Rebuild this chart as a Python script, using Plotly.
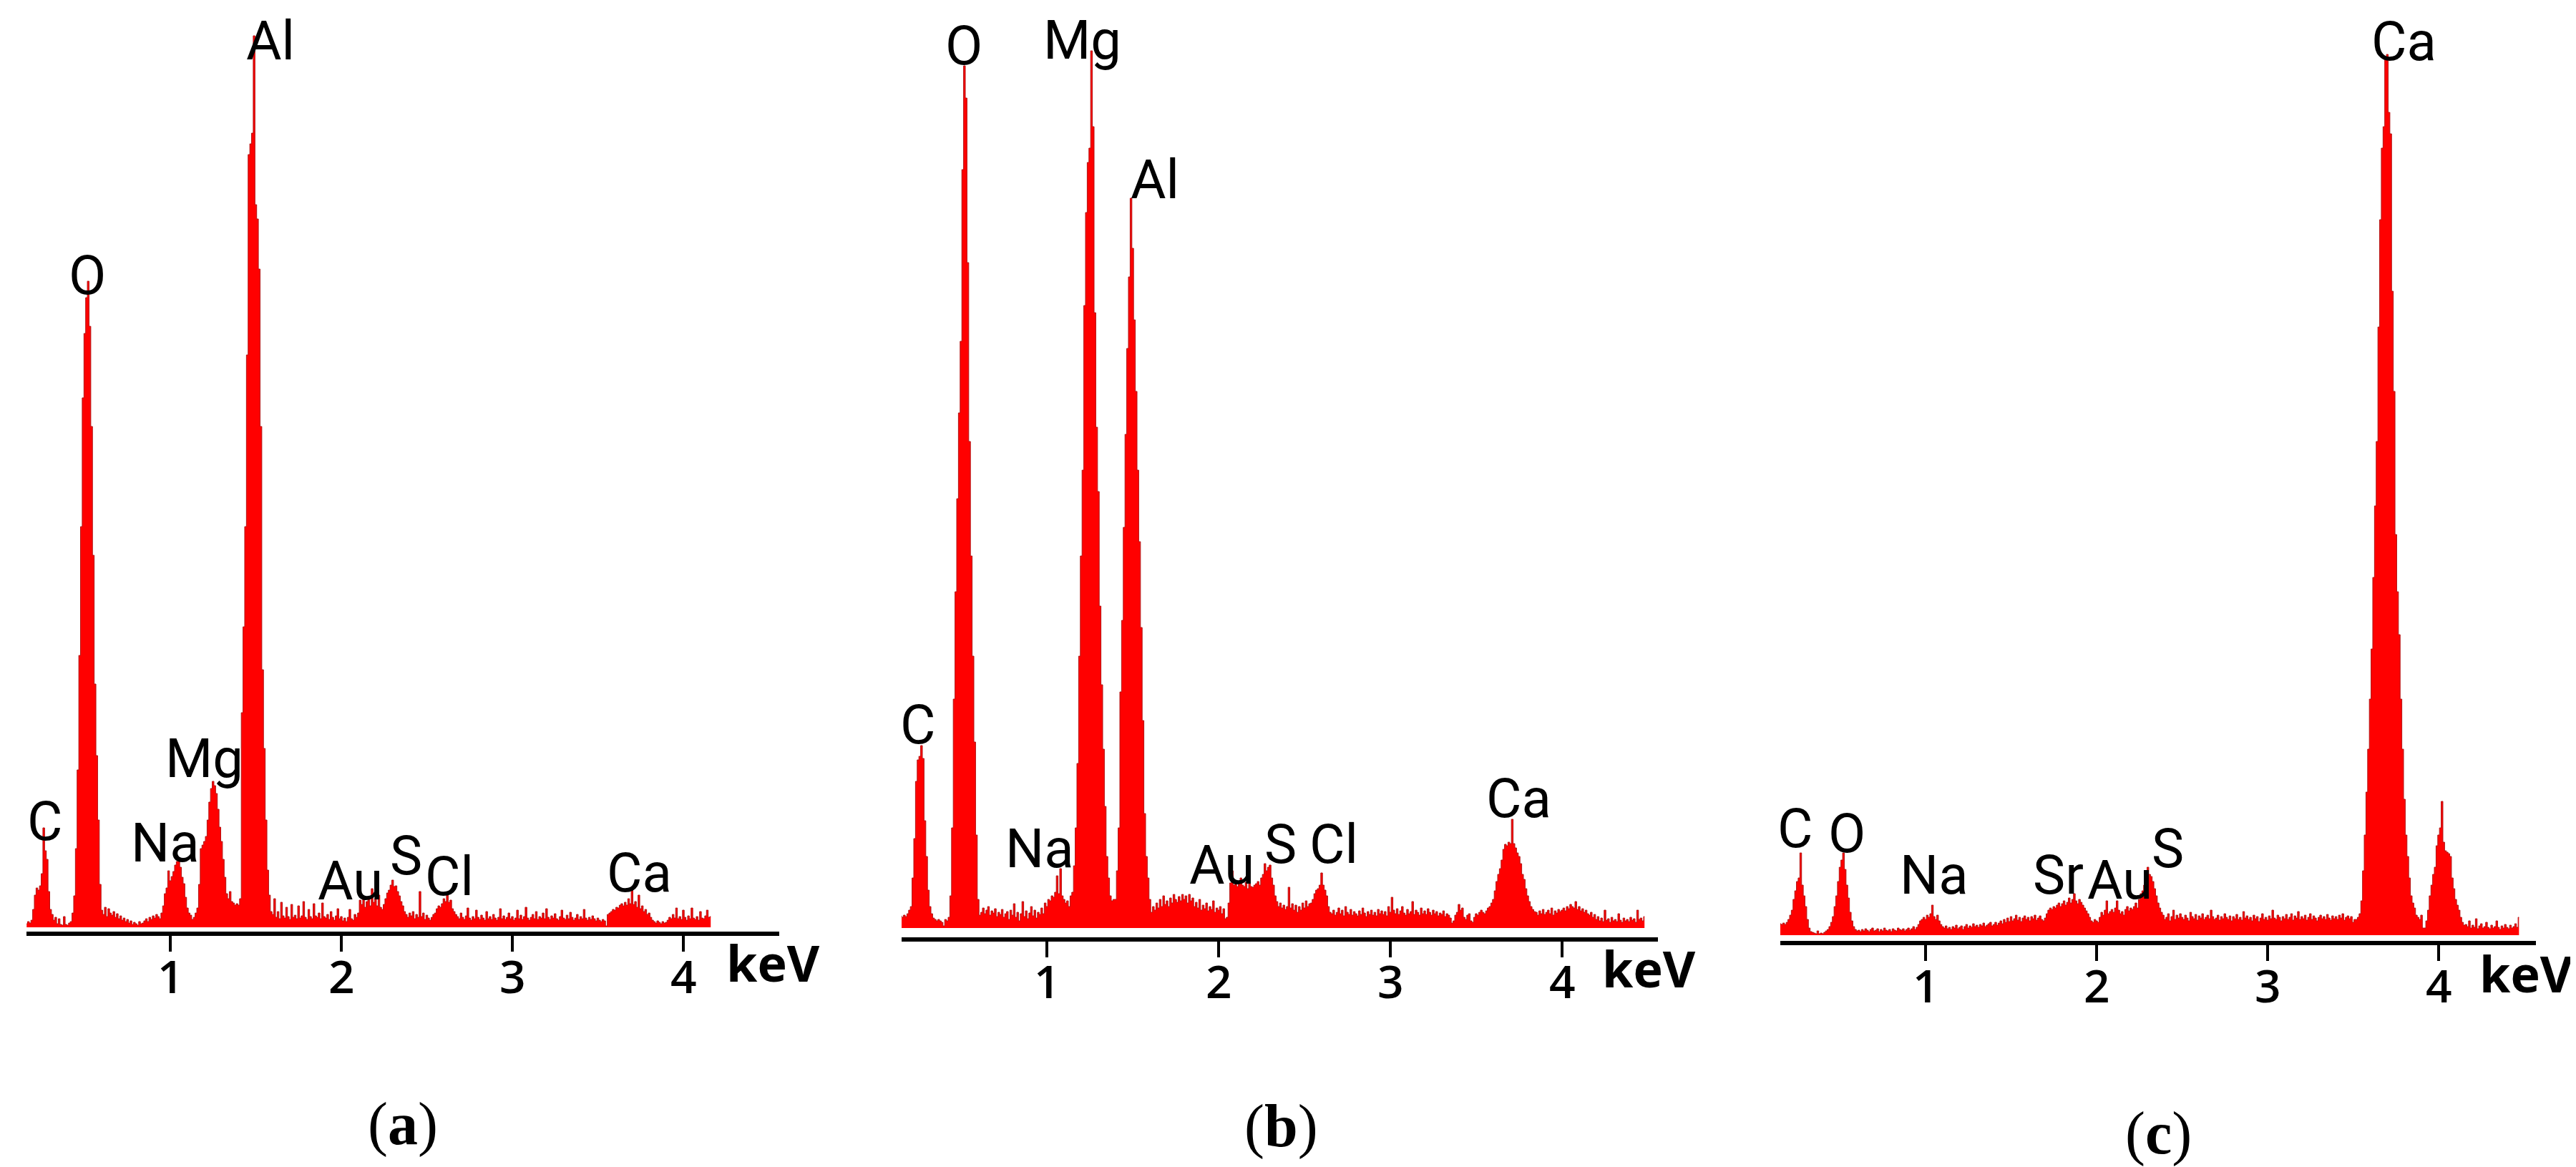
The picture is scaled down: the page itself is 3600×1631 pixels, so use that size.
import numpy as np
import plotly.graph_objects as go

W, H = 3600, 1631

# ------------------------------------------------------------------
# DATA (counts per 0.01 keV channel; arbitrary units)
# ------------------------------------------------------------------
E_STEP = 0.01

A_START = 0.16
A_COUNTS = [
    5, 8, 6, 10,
    25, 45, 55, 52, 58, 75, 139, 107, 95, 50,
    25, 18, 10, 14, 5, 12, 4, 3, 15, 4,
    3, 6, 8, 20, 44, 110, 220, 380, 560, 740,
    830, 880, 903, 840, 700, 520, 340, 240, 150, 60,
    24, 18, 28, 15, 26, 20, 17, 22, 14, 19,
    12, 16, 10, 13, 8, 11, 6, 9, 4, 7,
    5, 3, 8, 5, 6, 9, 12, 8, 14, 11,
    16, 13, 18, 15, 12, 20, 30, 47, 55, 79,
    65, 71, 78, 87, 92, 94, 84, 70, 61, 42,
    27, 20, 17, 11, 14, 20, 27, 60, 110, 115,
    120, 127, 150, 175, 194, 204, 198, 187, 165, 140,
    120, 95, 70, 47, 40, 50, 36, 34, 31, 33,
    31, 40, 300, 420, 560, 800, 1080, 1095, 1110, 1246,
    1010, 990, 920, 700, 360, 250, 150, 80, 45, 22,
    18, 40, 14, 22, 12, 35, 16, 13, 28, 15,
    11, 32, 14, 17, 12, 30, 13, 16, 36, 14,
    11, 25, 15, 12, 33, 16, 14, 20, 12, 34,
    15, 13, 18, 11, 22, 14, 10, 16, 26, 12,
    15, 9, 13, 8, 14, 25, 12, 10, 18, 14,
    20, 38, 32, 40, 28, 36, 42, 30, 54, 35,
    40, 30, 45, 28, 25, 32, 40, 48, 52, 59,
    66, 57, 58, 50, 44, 36, 30, 22, 18, 14,
    20, 16, 22, 12, 18, 14, 50, 15, 20, 11,
    17, 13, 10, 14, 18, 20, 26, 30, 28, 33,
    40, 36, 47, 35, 38, 26, 22, 18, 15, 12,
    20, 14, 11, 16, 27, 13, 10, 15, 12, 24,
    14, 11, 17, 13, 10, 22, 12, 15, 11, 18,
    13, 10, 14, 26, 12, 16, 11, 14, 20, 12,
    15, 10, 13, 24, 12, 17, 11, 15, 28, 13,
    10, 14, 18, 12, 22, 11, 15, 13, 20, 12,
    26, 14, 11, 16, 13, 19, 12, 10, 15, 24,
    13, 11, 17, 12, 21, 14, 10, 13, 18, 11,
    15, 12, 25, 13, 10, 14, 11, 16, 12, 9,
    13, 10, 8, 11, 9, 2, 18, 20, 22, 25,
    24, 28, 27, 31, 33, 30, 35, 31, 40, 33,
    54, 32, 36, 28, 45, 26, 30, 22, 25, 18,
    20, 14, 10, 8, 6, 9, 7, 5, 8, 6,
    7, 10, 14, 12, 18, 13, 27, 12, 15, 11,
    24, 14, 10, 16, 12, 27, 13, 11, 15, 10,
    22, 13, 12, 16, 24, 14, 15,
]

B_START = 0.15
B_COUNTS = [
    17, 15, 18, 16, 20,
    25, 30, 70, 125, 205, 235, 240, 255, 237, 150,
    100, 53, 30, 20, 14, 12, 10, 12, 10, 8,
    3, 12, 10, 15, 45, 140, 320, 470, 600, 720,
    820, 1060, 1205, 1160, 930, 680, 520, 380, 260, 130,
    40, 18, 22, 28, 20, 25, 30, 18, 24, 21,
    27, 16, 22, 19, 26, 15, 20, 23, 12, 25,
    18, 34, 15, 22, 10, 20, 37, 16, 24, 13,
    21, 30, 17, 25, 14, 22, 19, 28, 20, 35,
    30, 40, 38, 45, 43, 50, 73, 48, 83, 45,
    40, 35, 38, 30, 45, 50, 87, 140, 230, 380,
    520, 640, 870, 1000, 1070, 1090, 1226, 1120, 860, 700,
    610, 450, 340, 250, 170, 100, 70, 45, 38, 40,
    40, 80, 140, 330, 430, 560, 690, 810, 910, 1020,
    950, 850, 750, 640, 540, 420, 290, 160, 100, 70,
    40, 22, 30, 25, 35, 28, 40, 30, 45, 33,
    38, 30, 42, 35, 47, 40, 36, 44, 38, 47,
    40, 45, 35, 47, 38, 42, 30, 36, 28, 40,
    25, 32, 27, 35, 24, 30, 26, 38, 22, 28,
    25, 30, 20, 27, 13, 15, 35, 63, 80, 60,
    65, 58, 62, 70, 60, 58, 64, 55, 62, 58,
    57, 60, 62, 65, 60, 70, 75, 90, 80, 85,
    88, 70, 60, 45, 37, 30, 35, 28, 32, 26,
    30, 57, 28, 34, 25, 32, 22, 30, 25, 35,
    28, 38, 30, 34, 35, 40, 48, 53, 55, 60,
    77, 60, 53, 45, 30, 22, 20, 25, 18, 22,
    28, 20, 25, 17, 30, 22, 19, 26, 18, 23,
    20, 17, 24, 19, 28, 21, 16, 23, 19, 25,
    18, 22, 17, 26, 20, 24, 19, 23, 17, 30,
    22, 43, 25, 20, 27, 19, 24, 30, 21, 18,
    26, 20, 23, 37, 19, 25, 22, 18, 28, 20,
    24, 19, 27, 22, 18, 25, 20, 23, 17, 21,
    19, 24, 16, 20, 18, 14, 7, 10, 18, 22,
    33, 25, 28, 15, 12, 18, 20, 10, 8, 15,
    20, 18, 22, 25, 22, 20, 24, 28, 30, 35,
    40, 52, 65, 75, 83, 95, 110, 117, 115, 120,
    118, 152, 118, 112, 105, 100, 90, 75, 68, 55,
    45, 37, 30, 26, 23, 22, 18, 24, 20, 26,
    19, 22, 25, 20, 28, 18, 24, 21, 26, 23,
    25, 28, 24, 30, 27, 33, 30, 28, 37, 26,
    30, 24, 27, 22, 25, 20, 18, 22, 15, 19,
    12, 16, 10, 14, 9, 25, 11, 13, 8, 15,
    10, 12, 9, 20, 11, 8, 14, 10, 12, 9,
    15, 11, 13, 8, 25, 12, 14, 10, 16,
]

C_START = 0.13
C_COUNTS = [
    15, 14, 16, 15, 17, 15, 18,
    22, 28, 35, 50, 62, 75, 80, 115, 70, 55,
    40, 22, 10, 5, 4, 3, 2, 6, 2, 3,
    2, 4, 6, 8, 12, 18, 26, 40, 55, 75,
    95, 105, 115, 92, 70, 52, 32, 20, 12, 8,
    6, 7, 5, 8, 6, 9, 7, 5, 8, 10,
    6, 7, 9, 5, 8, 6, 10, 7, 6, 8,
    5, 9, 7, 6, 10, 8, 7, 9, 6, 8,
    10, 7, 9, 12, 8, 11, 15, 20, 22, 25,
    22, 28, 25, 30, 42, 26, 22, 28, 20, 15,
    12, 10, 13, 9, 11, 8, 12, 10, 14, 9,
    11, 13, 8, 12, 15, 10, 13, 11, 16, 12,
    14, 11, 15, 13, 17, 12, 14, 16, 18, 13,
    15, 18, 14, 17, 20, 16, 22, 18, 24, 19,
    26, 20, 23, 28, 21, 25, 19, 24, 27, 22,
    25, 20, 26, 23, 28, 21, 24, 27, 22, 20,
    24, 30, 35, 38, 36, 40, 38, 42, 45, 40,
    44, 48, 42, 46, 52, 45, 50, 58, 48, 44,
    50, 46, 42, 38, 34, 30, 25, 20, 18, 22,
    20, 18, 25, 32, 28, 35, 48, 30, 33, 36,
    32, 38, 48, 35, 30, 33, 28, 36, 40, 34,
    38, 36, 40, 45, 38, 50, 58, 62, 70, 80,
    95, 85, 82, 75, 65, 55, 45, 38, 32, 28,
    22, 25, 30, 20, 26, 35, 22, 28, 24, 30,
    25, 22, 28, 24, 20, 32, 26, 23, 29, 21,
    27, 24, 30, 22, 25, 28, 23, 35, 26, 22,
    24, 28, 21, 26, 23, 30, 25, 22, 27, 20,
    26, 23, 29, 22, 25, 21, 33, 24, 27, 22,
    25, 20, 28, 23, 26, 19, 24, 30, 22, 25,
    21, 27, 23, 35, 24, 22, 28, 25, 20, 26,
    23, 29, 22, 25, 30, 21, 27, 24, 33, 22,
    26, 23, 28, 21, 25, 30, 22, 27, 24, 20,
    25, 28, 23, 26, 22, 29, 24, 21, 27, 23,
    26, 22, 28, 24, 30, 21, 25, 27, 23, 26,
    18, 22, 22, 25, 30, 48, 90, 140, 200, 260,
    330, 400, 500, 600, 690, 850, 1000, 1100, 1130, 1226,
    1231, 1150, 1120, 900, 760, 560, 480, 420, 330, 260,
    190, 140, 110, 80, 55, 45, 38, 28, 25, 22,
    28, 10, 10, 20, 35, 55, 70, 85, 95, 125,
    140, 150, 187, 130, 118, 116, 114, 110, 80, 65,
    50, 42, 35, 25, 18, 14, 15, 12, 20, 10,
    14, 11, 23, 9, 13, 16, 10, 12, 18, 11,
    9, 14, 10, 12, 20, 11, 8, 13, 10, 15,
    11, 9, 14, 10, 12, 16, 11, 25,
]

# peak labels: element, anchor energy (keV), height (counts), horizontal anchor
A_LABELS = ["C", "O", "Na", "Mg", "Al", "Au", "S", "Cl", "Ca"]
A_LABEL_KEV = [0.264, 0.515, 0.971, 1.197, 1.586, 2.247, 2.280, 2.632, 3.741]
A_LABEL_Y = [148, 911, 118, 236, 1239, 65, 100, 71, 76]
A_LABEL_ANCHOR = ["center", "center", "center", "center", "center",
                  "right", "left", "center", "center"]

B_LABELS = ["C", "O", "Na", "Mg", "Al", "Au", "S", "Cl", "Ca"]
B_LABEL_KEV = [0.246, 0.517, 0.958, 1.208, 1.629, 2.212, 2.262, 2.671, 3.746]
B_LABEL_Y = [284, 1233, 111, 1241, 1046, 88, 117, 117, 181]
B_LABEL_ANCHOR = ["center", "center", "center", "center", "center",
                  "right", "left", "center", "center"]

C_LABELS = ["C", "O", "Na", "Sr", "Au", "S", "Ca"]
C_LABEL_KEV = [0.238, 0.540, 1.050, 1.928, 1.942, 2.318, 3.799]
C_LABEL_Y = [149, 142, 84, 84, 77, 121, 1249]
C_LABEL_ANCHOR = ["center", "center", "center", "right", "left", "left", "center"]

TICK_VALS = [1, 2, 3, 4]
TICK_TEXT = ["1", "2", "3", "4"]
AXIS_UNIT = "keV"
CAPTIONS = ["(<b>a</b>)", "(<b>b</b>)", "(<b>c</b>)"]

# ------------------------------------------------------------------
# STYLE / GEOMETRY (pixels of the 3600 x 1631 canvas)
# ------------------------------------------------------------------
PANELS = [
    dict(x0=29, x1=1081, zero=-9, ppk=239, base=1288, axis=1294, top=30,
         ticky=1355, unit=(1072, 1337), cap=(555, 1563)),
    dict(x0=1252, x1=2309, zero=1215, ppk=240, base=1289, axis=1302, top=30,
         ticky=1362, unit=(2296, 1345), cap=(1782, 1566)),
    dict(x0=2480, x1=3536, zero=2444, ppk=239, base=1299, axis=1307, top=30,
         ticky=1368, unit=(3522, 1352), cap=(3008, 1576)),
]
RED = "#ff0000"
EDGE = "#b31212"
LABEL_FONT = "Roboto, Open Sans, sans-serif"
TICK_FONT = "Open Sans, Noto Sans, sans-serif"
CAP_FONT = "Liberation Serif, DejaVu Serif, serif"

spectra = [(A_START, A_COUNTS), (B_START, B_COUNTS), (C_START, C_COUNTS)]
labels = [(A_LABELS, A_LABEL_KEV, A_LABEL_Y, A_LABEL_ANCHOR),
          (B_LABELS, B_LABEL_KEV, B_LABEL_Y, B_LABEL_ANCHOR),
          (C_LABELS, C_LABEL_KEV, C_LABEL_Y, C_LABEL_ANCHOR)]

fig = go.Figure()
annotations = []
for i, (p, (start, counts), (lab, lkev, ly, lanc)) in enumerate(zip(PANELS, spectra, labels)):
    sfx = "" if i == 0 else str(i + 1)
    energy = start + E_STEP * np.arange(len(counts))
    fig.add_trace(go.Scatter(
        x=energy, y=counts, xaxis="x" + sfx, yaxis="y" + sfx,
        mode="lines", line=dict(color=EDGE, width=1, shape="hvh"),
        fill="tozeroy", fillcolor=RED, hoverinfo="skip", showlegend=False,
    ))
    xr = [(p["x0"] - p["zero"]) / p["ppk"], (p["x1"] - p["zero"]) / p["ppk"]]
    yr = [-(p["axis"] - p["base"]), p["base"] - p["top"]]
    fig.layout["xaxis" + sfx] = dict(
        domain=[p["x0"] / W, p["x1"] / W], range=xr, anchor="y" + sfx,
        showgrid=False, zeroline=False, showline=True, linecolor="black",
        linewidth=6, ticks="outside", ticklen=22, tickwidth=4, tickcolor="black",
        tickvals=TICK_VALS, showticklabels=False, fixedrange=True,
    )
    fig.layout["yaxis" + sfx] = dict(
        domain=[1 - p["axis"] / H, 1 - p["top"] / H], range=yr, anchor="x" + sfx,
        visible=False, fixedrange=True,
    )
    # tick labels placed on the axis's own data coordinates
    for tv, tt in zip(TICK_VALS, TICK_TEXT):
        annotations.append(dict(
            x=tv, y=1 - p["ticky"] / H, xref="x" + sfx, yref="paper", text=tt,
            showarrow=False, xanchor="center", yanchor="middle",
            font=dict(family=TICK_FONT, size=64, color="black", weight=600),
        ))
    for t, xk, yv, an in zip(lab, lkev, ly, lanc):
        annotations.append(dict(
            x=xk, y=yv, xref="x" + sfx, yref="y" + sfx, text=t, showarrow=False,
            xanchor=an, yanchor="middle", borderpad=0,
            font=dict(family=LABEL_FONT, size=76, color="black"),
        ))
    annotations.append(dict(
        x=p["unit"][0] / W, y=1 - p["unit"][1] / H, xref="paper", yref="paper",
        text=AXIS_UNIT, showarrow=False, xanchor="center", yanchor="middle",
        font=dict(family=TICK_FONT, size=70, color="black", weight=700),
    ))
    annotations.append(dict(
        x=p["cap"][0] / W, y=1 - p["cap"][1] / H, xref="paper", yref="paper",
        text=CAPTIONS[i], showarrow=False, xanchor="center", yanchor="middle",
        font=dict(family=CAP_FONT, size=84, color="black"),
    ))

fig.update_layout(
    width=W, height=H, margin=dict(l=0, r=0, t=0, b=0),
    paper_bgcolor="white", plot_bgcolor="white",
    annotations=annotations, showlegend=False,
)
fig.write_html("out.html")
